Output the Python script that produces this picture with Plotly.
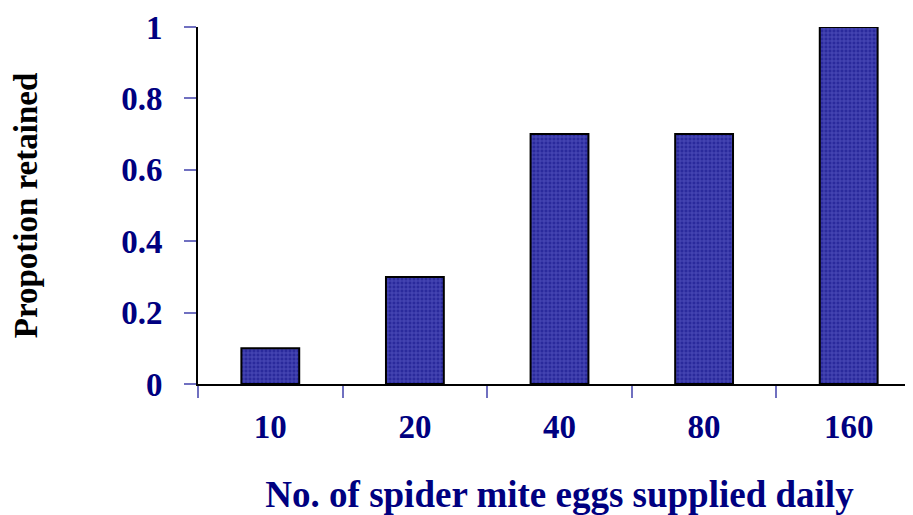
import plotly.graph_objects as go

categories = ["10", "20", "40", "80", "160"]
proportion = [0.1, 0.3, 0.7, 0.7, 1.0]
y_ticks = [0, 0.2, 0.4, 0.6, 0.8, 1]
y_tick_labels = ["0", "0.2", "0.4", "0.6", "0.8", "1"]

navy = "#000080"
font_family = "Liberation Serif, Times New Roman, serif"

fig = go.Figure(go.Bar(
    x=categories,
    y=proportion,
    width=0.4,
    marker=dict(
        color="#2a2a9c",
        line=dict(color="black", width=2),
        pattern=dict(shape="+", fgcolor="#7272d6", size=4, solidity=0.4),
    ),
))

fig.update_layout(
    width=913, height=515,
    margin=dict(l=190, r=0, t=19, b=139),
    plot_bgcolor="white", paper_bgcolor="white",
    showlegend=False,
    font=dict(family=font_family, color=navy),
)
fig.update_xaxes(
    type="category", automargin=False,
    showline=True, linecolor="black", linewidth=2,
    ticks="outside", tickson="boundaries", ticklen=12, tickcolor="#7070c0", tickwidth=2,
    tickfont=dict(size=33, family=font_family, color=navy, weight="bold"),
    ticklabelstandoff=12,
    title=dict(text="<b>No. of spider mite eggs supplied daily</b>", font=dict(size=37), standoff=38),
    showgrid=False,
)
fig.update_yaxes(
    range=[0, 1], automargin=False,
    tickvals=y_ticks, ticktext=y_tick_labels,
    showline=True, linecolor="black", linewidth=2,
    ticks="outside", ticklen=12, tickcolor="#7070c0", tickwidth=2,
    tickfont=dict(size=33, family=font_family, color=navy, weight="bold"),
    ticklabelstandoff=15,
    title=dict(text="<b>Propotion retained</b>", font=dict(size=33, color="black"), standoff=100),
    showgrid=False, zeroline=False,
)

fig.write_html("out.html")
